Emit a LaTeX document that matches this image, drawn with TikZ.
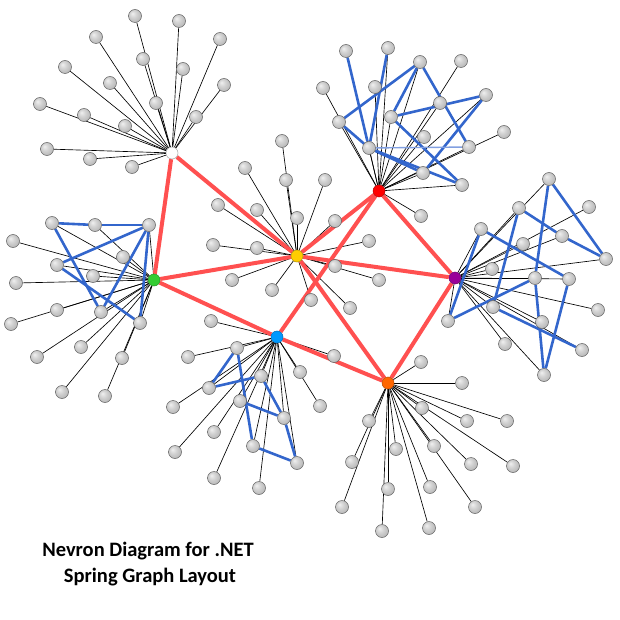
\documentclass[tikz,border=0pt]{standalone}
\usepackage{fontspec}
\setmainfont{Carlito}
\pgfdeclarelayer{edges}
\pgfsetlayers{edges,main}
\definecolor{redE}{RGB}{255,80,80}
\definecolor{blueE}{RGB}{51,102,204}
\definecolor{lblueE}{RGB}{130,160,225}
\definecolor{hubR}{RGB}{255,0,0}
\definecolor{hubY}{RGB}{255,204,0}
\definecolor{hubG}{RGB}{51,204,51}
\definecolor{hubP}{RGB}{153,0,153}
\definecolor{hubB}{RGB}{0,153,255}
\definecolor{hubO}{RGB}{255,102,0}
\pgfdeclareradialshading{leafball}{\pgfpoint{-10bp}{10bp}}{color(0bp)=(gray!12); color(14bp)=(gray!36); color(32bp)=(gray!60); color(50bp)=(gray!72)}
\tikzset{
  leaf/.style={circle, minimum size=13pt, inner sep=0pt, shading=leafball, draw=gray!75!black, line width=0.5pt},
  hub/.style={circle, minimum size=12pt, inner sep=0pt, line width=0.5pt},
  spoke/.style={line width=0.65pt, black},
  link/.style={line width=2.6pt, blueE},
  lightlink/.style={line width=1.4pt, lblueE},
  mainlink/.style={line width=4pt, redE},
  title/.style={anchor=base, inner sep=0pt, font=\fontsize{20.5}{26}\selectfont\bfseries}
}
\begin{document}
\begin{tikzpicture}[x=1pt,y=-1pt]
\useasboundingbox (0,0) rectangle (620,620);
% hubs
\node[hub, fill=white, draw=gray!70] (W) at (172,153) {};
\node[hub, fill=hubR, draw=hubR!70!black] (R) at (379,191) {};
\node[hub, fill=hubY, draw=hubY!70!black] (Y) at (297,256) {};
\node[hub, fill=hubG, draw=hubG!70!black] (G) at (154,280) {};
\node[hub, fill=hubP, draw=hubP!70!black] (P) at (455,278) {};
\node[hub, fill=hubB, draw=hubB!70!black] (B) at (277,337) {};
\node[hub, fill=hubO, draw=hubO!70!black] (O) at (388,383) {};
% leaves of W
\foreach \n/\x/\y in {w1/135/16, w2/179/21, w3/96/37, w4/143/59, w5/183/69, w6/65/67, w7/110/83, w8/156/103, w9/40/104, w10/84/115, w11/125/126, w12/196/117, w13/47/149, w14/90/159, w15/132/167, w16/220/39, w17/224/85}
  {\node[leaf] (\n) at (\x,\y) {};}
% leaves of R
\foreach \n/\x/\y in {r1/346/51, r2/388/48, r3/420/62, r4/461/61, r5/323/88, r6/375/87, r7/486/95, r8/440/103, r9/339/122, r10/391/117, r11/504/132, r12/424/137, r13/469/147, r14/369/148, r15/423/173, r16/462/185, r17/421/216}
  {\node[leaf] (\n) at (\x,\y) {};}
% leaves of Y
\foreach \n/\x/\y in {y1/282/141, y2/245/168, y3/286/180, y4/325/180, y5/218/205, y6/257/210, y7/297/218, y8/335/221, y9/213/245, y10/257/248, y11/369/241, y12/335/266, y13/379/280, y14/232/280, y15/272/290, y16/311/300, y17/350/308}
  {\node[leaf] (\n) at (\x,\y) {};}
% leaves of G
\foreach \n/\x/\y in {g1/52/223, g2/95/225, g3/149/225, g4/13/241, g5/123/257, g6/57/265, g7/93/276, g8/16/283, g9/57/310, g10/101/312, g11/140/323, g12/11/324, g13/37/357, g14/81/347, g15/122/358, g16/62/392, g17/105/396}
  {\node[leaf] (\n) at (\x,\y) {};}
% leaves of P
\foreach \n/\x/\y in {p1/549/179, p2/589/207, p3/519/208, p4/481/229, p5/562/236, p6/523/244, p7/606/259, p8/492/269, p9/535/278, p10/569/279, p11/598/310, p12/493/307, p13/448/321, p14/542/322, p15/505/344, p16/582/350, p17/544/375}
  {\node[leaf] (\n) at (\x,\y) {};}
% leaves of B
\foreach \n/\x/\y in {c1/211/321, c2/237/348, c3/188/357, c4/334/356, c5/300/372, c6/261/376, c7/209/388, c8/173/407, c9/320/406, c10/240/401, c11/284/418, c12/214/432, c13/253/446, c14/175/452, c15/297/463, c16/214/478, c17/259/488}
  {\node[leaf] (\n) at (\x,\y) {};}
% leaves of O
\foreach \n/\x/\y in {o1/421/362, o2/462/383, o3/422/408, o4/467/421, o5/507/421, o6/434/446, o7/471/464, o8/513/466, o9/430/487, o10/475/507, o11/429/528, o12/369/421, o13/396/449, o14/352/462, o15/388/489, o16/342/507, o17/382/531}
  {\node[leaf] (\n) at (\x,\y) {};}

\begin{pgfonlayer}{edges}
% spokes
\foreach \h/\p in {W/w, R/r, Y/y, G/g, P/p, B/c, O/o}
  \foreach \i in {1,...,17}
    {\draw[spoke] (\h) -- (\p\i);}
% blue links
\foreach \a/\b in {r1/r14, r2/r14, r3/r9, r3/r10, r3/r13, r10/r7, r7/r15, r9/r14, r14/r16, r10/r16, r14/r15,
                   g1/g2, g2/g3, g3/g6, g1/g10, g6/g11, g3/g10, g3/g11,
                   p1/p7, p1/p9, p9/p17, p10/p17, p3/p5, p5/p7, p3/p12, p4/p10, p4/p13, p13/p9, p12/p16,
                   c2/c7, c2/c13, c7/c6, c6/c11, c11/c15, c10/c11, c13/c15}
  {\draw[link] (\a) -- (\b);}
\draw[lightlink] (r14) -- (r13);
% main red links
\foreach \a/\b in {W/G, W/Y, G/Y, G/B, Y/R, Y/P, Y/O, B/R, B/O, R/P, P/O}
  {\draw[mainlink] (\a) -- (\b);}
\end{pgfonlayer}

\node[title] (t1) at (148,556) {Nevron Diagram for .NET};
\node[title] (t2) at (150,582) {Spring Graph Layout};
\end{tikzpicture}
\end{document}
